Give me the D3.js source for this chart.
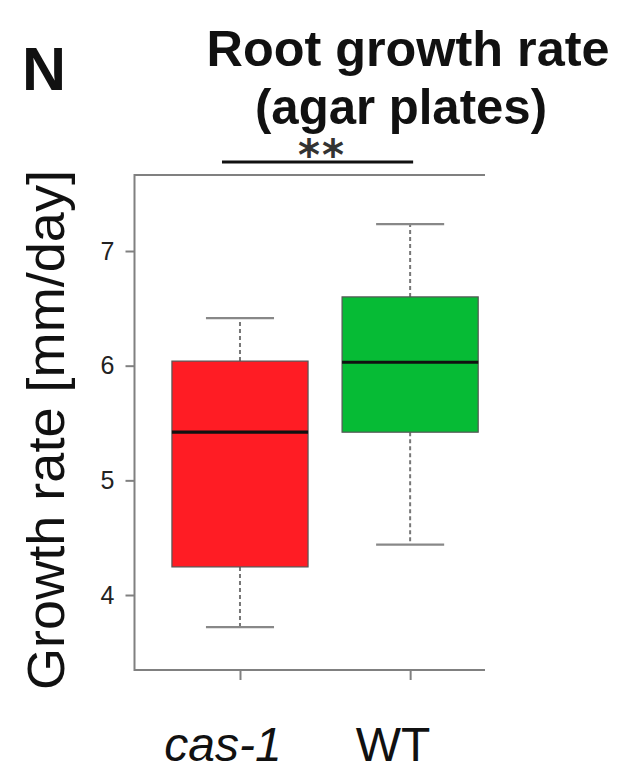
<!DOCTYPE html>
<html>
<head>
<meta charset="utf-8">
<script src="https://cdn.jsdelivr.net/npm/d3@7"></script>
<style>
  html, body { margin: 0; padding: 0; background: #fff; }
  svg { display: block; font-family: "Liberation Sans", Arial, Helvetica, sans-serif; }
</style>
</head>
<body>
<svg id="chart" width="620" height="772"></svg>
<script>
// Root growth rate on agar plates: box-plot summaries per genotype
const genotypes   = ["cas-1", "WT"];
const whiskerLow  = [3.72, 4.44];
const quartileLow = [4.245, 5.42];
const medians     = [5.42, 6.03];
const quartileHigh= [6.04, 6.60];
const whiskerHigh = [6.415, 7.235];
const boxColors   = ["#ff1c24", "#06bb35"];
const yTicks      = [4, 5, 6, 7];
const significance = { from: 0, to: 1, label: "**" };

const svg = d3.select("#chart");

// scales: box positions 1..n along x, growth rate along y
const x = d3.scaleLinear().domain([0.38, 2.44]).range([134.5, 485]);
const y = d3.scaleLinear().domain([3.346, 7.663]).range([670, 175]);
const boxHalf = 0.4, capHalf = 0.2;

// panel letter and title
svg.append("text").attr("x", 22).attr("y", 90)
  .attr("font-size", 61).attr("font-weight", "bold").attr("fill", "#111").text("N");
svg.append("text").attr("x", 408).attr("y", 66).attr("text-anchor", "middle")
  .attr("font-size", 50).attr("font-weight", "bold").attr("fill", "#111")
  .attr("textLength", 403).attr("lengthAdjust", "spacingAndGlyphs").text("Root growth rate");
svg.append("text").attr("x", 401).attr("y", 124).attr("text-anchor", "middle")
  .attr("font-size", 50).attr("font-weight", "bold").attr("fill", "#111")
  .attr("textLength", 292).attr("lengthAdjust", "spacingAndGlyphs").text("(agar plates)");

// boxes
const data = genotypes.map((g, i) => ({
  g, i: i + 1, lo: whiskerLow[i], q1: quartileLow[i], med: medians[i],
  q3: quartileHigh[i], hi: whiskerHigh[i], color: boxColors[i]
}));

const grp = svg.append("g").selectAll("g").data(data).join("g");

// dashed whiskers
grp.append("line")
  .attr("x1", d => x(d.i)).attr("x2", d => x(d.i))
  .attr("y1", d => y(d.q3)).attr("y2", d => y(d.hi))
  .attr("stroke", "#777").attr("stroke-width", 2).attr("stroke-dasharray", "4,3");
grp.append("line")
  .attr("x1", d => x(d.i)).attr("x2", d => x(d.i))
  .attr("y1", d => y(d.q1)).attr("y2", d => y(d.lo))
  .attr("stroke", "#777").attr("stroke-width", 2).attr("stroke-dasharray", "4,3");
// whisker caps
["lo", "hi"].forEach(k => {
  grp.append("line")
    .attr("x1", d => x(d.i - capHalf)).attr("x2", d => x(d.i + capHalf))
    .attr("y1", d => y(d[k])).attr("y2", d => y(d[k]))
    .attr("stroke", "#888").attr("stroke-width", 2.2);
});
// interquartile boxes
grp.append("rect")
  .attr("x", d => x(d.i - boxHalf)).attr("width", d => x(d.i + boxHalf) - x(d.i - boxHalf))
  .attr("y", d => y(d.q3)).attr("height", d => y(d.q1) - y(d.q3))
  .attr("fill", d => d.color).attr("stroke", "#555").attr("stroke-width", 1.2);
// medians
grp.append("line")
  .attr("x1", d => x(d.i - boxHalf)).attr("x2", d => x(d.i + boxHalf))
  .attr("y1", d => y(d.med)).attr("y2", d => y(d.med))
  .attr("stroke", "#111").attr("stroke-width", 3.2);

// frame (open on the right)
const frame = svg.append("g").attr("stroke", "#808080").attr("stroke-width", 2).attr("fill", "none");
frame.append("path").attr("d",
  `M${x(2.44)},${y(7.663)} H${x(0.38)} V${y(3.346)} H${x(2.44)}`);

// y axis
const yAxis = svg.append("g").attr("transform", `translate(${x(0.38)},0)`)
  .call(d3.axisLeft(y).tickValues(yTicks).tickSize(9).tickPadding(11).tickFormat(d3.format("d")));
yAxis.select(".domain").remove();
yAxis.selectAll(".tick line").attr("stroke", "#808080").attr("stroke-width", 2);
yAxis.selectAll(".tick text").attr("font-size", 25).attr("fill", "#222")
  .attr("font-family", "Liberation Sans, Arial, sans-serif");

// x axis ticks
const xAxis = svg.append("g").attr("transform", `translate(0,${y(3.346)})`)
  .call(d3.axisBottom(x).tickValues([1, 2]).tickSize(10).tickFormat(""));
xAxis.select(".domain").remove();
xAxis.selectAll(".tick line").attr("stroke", "#808080").attr("stroke-width", 2);

// category labels
svg.append("g").selectAll("text").data(data).join("text")
  .attr("x", d => x(d.i) - 17).attr("y", 761).attr("text-anchor", "middle")
  .attr("font-size", 48).attr("fill", "#111")
  .attr("font-style", d => d.g === "WT" ? "normal" : "italic")
  .text(d => d.g);

// y axis title
svg.append("text")
  .attr("transform", `translate(64,430) rotate(-90)`)
  .attr("text-anchor", "middle").attr("font-size", 51).attr("fill", "#111")
  .attr("textLength", 520).attr("lengthAdjust", "spacingAndGlyphs")
  .text("Growth rate [mm/day]");

// significance bracket
svg.append("line")
  .attr("x1", x(significance.from + 1) - 18).attr("x2", x(significance.to + 1) + 3)
  .attr("y1", 162).attr("y2", 162)
  .attr("stroke", "#111").attr("stroke-width", 3);
svg.append("text")
  .attr("x", (x(significance.from + 1) + x(significance.to + 1)) / 2 - 3).attr("y", 170)
  .attr("text-anchor", "middle").attr("font-size", 42).attr("font-weight", "bold").attr("fill", "#333")
  .attr("font-family", "DejaVu Sans, sans-serif").attr("letter-spacing", 2)
  .text(significance.label);
</script>
</body>
</html>
